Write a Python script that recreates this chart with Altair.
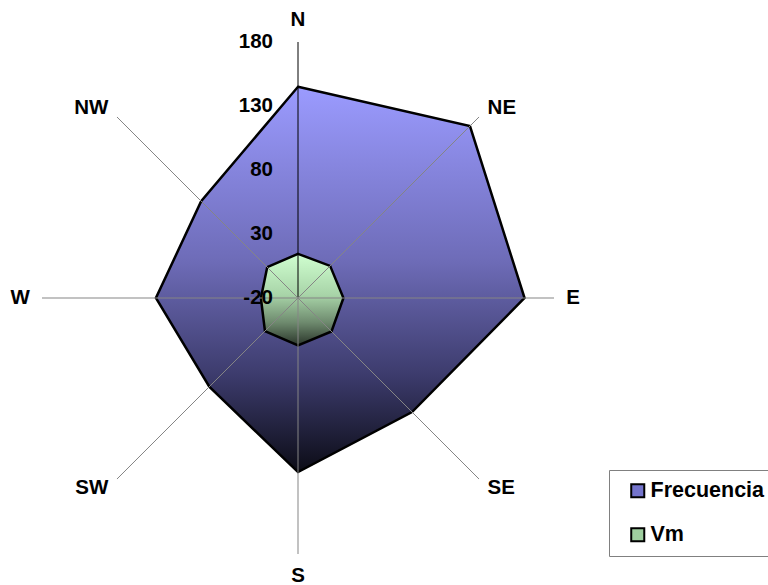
import altair as alt
import pandas as pd

# Wind rose: frequency and mean speed per direction
directions = ["N", "NE", "E", "SE", "S", "SW", "W", "NW"]
frecuencia = [145, 170, 157, 106, 116, 78, 91, 87]
vm = [14.5, 15.5, 15.5, 17, 17, 16.5, 9, 14]
series_names = ["Frecuencia", "Vm"]
ticks = [-20, 30, 80, 130, 180]

R_MIN, R_MAX = -20, 180
SPAN = R_MAX - R_MIN

# canvas geometry
W, H = 768, 585
CX, CY = 298, 298
PX = 1.28  # pixels per value unit
FONT = "Liberation Sans"

xs = alt.Scale(domain=[-CX / PX, (W - CX) / PX], nice=False, zero=False)
ys = alt.Scale(domain=[-(H - CY) / PX, CY / PX], nice=False, zero=False)

rows = []
for name, vals in zip(series_names, [frecuencia, vm]):
    for i, (d, v) in enumerate(zip(directions, vals)):
        rows.append({"serie": name, "dir": d, "idx": i, "value": v})
series_df = pd.DataFrame(rows)
dir_df = pd.DataFrame({"dir": directions, "idx": list(range(len(directions)))})
tick_df = pd.DataFrame({"tick": ticks})

ANG = "datum.idx * PI / 4"


def grad(stops):
    return alt.LinearGradient(
        gradient="linear",
        x1=0, y1=0, x2=0, y2=1,
        stops=[alt.GradientStop(color=c, offset=o) for o, c in stops],
    )


def polygon(name, stops):
    return (
        alt.Chart(series_df)
        .transform_filter(alt.datum.serie == name)
        .transform_calculate(
            px=f"(datum.value - {R_MIN}) * sin({ANG})",
            py=f"(datum.value - {R_MIN}) * cos({ANG})",
        )
        .mark_line(
            interpolate="linear-closed",
            fill=grad(stops),
            stroke="black",
            strokeWidth=2.5,
            strokeJoin="miter",
        )
        .encode(
            x=alt.X("px:Q", scale=xs, axis=None),
            y=alt.Y("py:Q", scale=ys, axis=None),
            order="idx:Q",
        )
    )


freq_poly = polygon(
    "Frecuencia",
    [(0, "#9b9bff"), (0.45, "#6e6cb8"), (0.75, "#3c3b6c"), (1, "#0c0c16")],
)
vm_poly = polygon(
    "Vm",
    [(0, "#d0ffd0"), (0.45, "#a8d4a8"), (0.75, "#6e8a6e"), (1, "#2a352a")],
)

# spokes from the centre to the outer ring
spokes = (
    alt.Chart(dir_df)
    .transform_calculate(
        zero="0",
        ex=f"{SPAN} * sin({ANG})",
        ey=f"{SPAN} * cos({ANG})",
    )
    .mark_rule(strokeWidth=1)
    .encode(
        x=alt.X("zero:Q", scale=xs, axis=None),
        y=alt.Y("zero:Q", scale=ys, axis=None),
        x2="ex:Q",
        y2="ey:Q",
        color=alt.condition(alt.datum.idx == 0, alt.value("black"), alt.value("#858585")),
    )
)

# value labels along the north axis
tick_labels = (
    alt.Chart(tick_df)
    .transform_calculate(zero="0", ty=f"datum.tick - {R_MIN}")
    .mark_text(align="right", baseline="middle", dx=-25, font=FONT, fontSize=20.5, fontWeight="bold", color="black")
    .encode(
        x=alt.X("zero:Q", scale=xs, axis=None),
        y=alt.Y("ty:Q", scale=ys, axis=None),
        text="tick:N",
    )
)


def dir_labels(idxs, align, pad):
    return (
        alt.Chart(dir_df)
        .transform_filter(alt.FieldOneOfPredicate(field="idx", oneOf=idxs))
        .transform_calculate(
            lx=f"({SPAN} + {pad}) * sin({ANG})",
            ly=f"({SPAN} + {pad}) * cos({ANG})",
        )
        .mark_text(align=align, baseline="middle", font=FONT, fontSize=20.5, fontWeight="bold", color="black")
        .encode(
            x=alt.X("lx:Q", scale=xs, axis=None),
            y=alt.Y("ly:Q", scale=ys, axis=None),
            text="dir:N",
        )
    )


labels_c = dir_labels([0, 4], "center", 17)
labels_l = dir_labels([1, 2, 3], "left", 9.5)
labels_r = dir_labels([5, 6, 7], "right", 9.5)

# legend carrier: invisible marks, visible legend
legend_layer = (
    alt.Chart(pd.DataFrame({"serie": series_names}))
    .mark_square(opacity=0, size=1)
    .encode(
        x=alt.X("zero:Q", scale=xs, axis=None),
        y=alt.Y("zero:Q", scale=ys, axis=None),
        color=alt.Color(
            "serie:N",
            scale=alt.Scale(domain=series_names, range=["#7474cc", "#9fcf9f"]),
            legend=alt.Legend(
                title=None,
                orient="none",
                legendX=609,
                legendY=470,
                padding=10,
                strokeColor="#808080",
                symbolType="square",
                symbolSize=170,
                symbolOpacity=1,
                symbolStrokeColor="black",
                symbolStrokeWidth=2,
                symbolOffset=8,
                labelFont=FONT,
                labelFontSize=21.5,
                labelFontWeight="bold",
                labelColor="black",
                labelOffset=2,
                rowPadding=21,
            ),
        ),
    )
    .transform_calculate(zero="0")
)

chart = (
    alt.layer(freq_poly, vm_poly, spokes, tick_labels, labels_c, labels_l, labels_r, legend_layer)
    .properties(width=W, height=H, padding=0, autosize=alt.AutoSizeParams(type="none"))
    .configure_view(stroke=None)
)

chart.save("out.html", embed_options={"renderer": "svg", "actions": False})
